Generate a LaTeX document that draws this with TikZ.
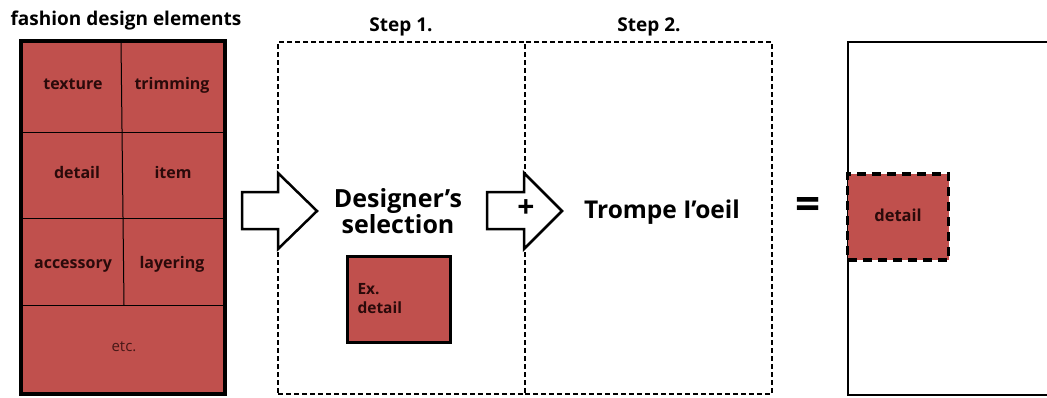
\documentclass[tikz,border=0pt]{standalone}
\usepackage{fontspec}
\setmainfont{Open Sans}
\definecolor{cellred}{HTML}{C0504D}
\definecolor{celltext}{HTML}{2A0A0A}
\begin{document}
\begin{tikzpicture}[x=1pt,y=-1pt,
  cell/.style={font=\bfseries\fontsize{16}{18}\selectfont, text=celltext, text height=12pt, text depth=4pt},
  steplabel/.style={font=\bfseries\fontsize{19}{21}\selectfont},
  bigtext/.style={font=\bfseries\fontsize{25}{29}\selectfont},
  dashbox/.style={draw, line width=1.4pt, dash pattern=on 5pt off 3pt},
  blockarrow/.style={draw, line width=2.5pt, fill=white, line join=miter}]
\useasboundingbox (0,0) rectangle (1047,397);
% left element table
\node[draw=black, line width=4pt, fill=cellred, minimum width=204pt, minimum height=353pt, inner sep=0pt] (table) at (123,217.5) {};
\coordinate (v1) at (121,41); \coordinate (v2) at (124,305);
\coordinate (h1l) at (21,132); \coordinate (h1r) at (225,132);
\coordinate (h2l) at (21,218); \coordinate (h2r) at (225,218);
\coordinate (h3l) at (21,305); \coordinate (h3r) at (225,305);
\draw[line width=1pt] (v1) -- (v2);
\draw[line width=1pt] (h1l) -- (h1r);
\draw[line width=1pt] (h2l) -- (h2r);
\draw[line width=1pt] (h3l) -- (h3r);
\node[font=\bfseries\fontsize{19}{21}\selectfont] (title) at (126,21) {fashion design elements};
\node[cell] (texture) at (73,85) {texture};
\node[cell] (trimming) at (172,85) {trimming};
\node[cell] (detail) at (77,174) {detail};
\node[cell] (item) at (173,174) {item};
\node[cell] (accessory) at (73,264) {accessory};
\node[cell] (layering) at (172,264) {layering};
\node[font=\fontsize{15}{17}\selectfont, text=celltext!80!cellred] (etc) at (124,347) {etc.};
% step boxes
\node[dashbox, minimum width=247pt, minimum height=352pt, inner sep=0pt] (step1) at (401.5,218) {};
\node[dashbox, minimum width=247pt, minimum height=352pt, inner sep=0pt] (step2) at (648.5,218) {};
\node[steplabel] (s1) at (401,27) {Step 1.};
\node[steplabel] (s2) at (649,27) {Step 2.};
% block arrows
\draw[blockarrow] (242,192) -- (278,192) -- (278,173) -- (317,211) -- (278,249) -- (278,229) -- (242,229) -- cycle;
\draw[blockarrow] (487,192) -- (524,192) -- (524,173) -- (562,211) -- (524,249) -- (524,229) -- (487,229) -- cycle;
\node[font=\bfseries\fontsize{30}{32}\selectfont] (plus) at (526,209) {+};
% step 1 content
\node[bigtext, align=center] (designer) at (398,211) {Designer’s\\[-3pt]selection};
\node[draw=black, line width=3pt, fill=cellred, minimum width=103pt, minimum height=86pt, inner sep=0pt] (exbox) at (399,299) {};
\node[cell, anchor=west, align=left, font=\bfseries\fontsize{15.5}{19}\selectfont, text height=, text depth=] (extext) at (354,299) {Ex.\\detail};
% step 2 content
\node[font=\bfseries\fontsize{24.5}{28}\selectfont] (trompe) at (662,212) {Trompe I'oeil};
\node[font=\bfseries\fontsize{44}{46}\selectfont] (eq) at (808,208) {=};
% result
\draw[line width=2.5pt] (1050,42) -- (848,42) -- (848,395) -- (1050,395);
\node[draw=black, line width=3.5pt, dash pattern=on 9pt off 6pt, fill=cellred, minimum width=101pt, minimum height=86pt, inner sep=0pt] (resbox) at (898,217) {};
\node[cell, font=\bfseries\fontsize{16.5}{18}\selectfont] (restext) at (898,217) {detail};
\end{tikzpicture}
\end{document}
